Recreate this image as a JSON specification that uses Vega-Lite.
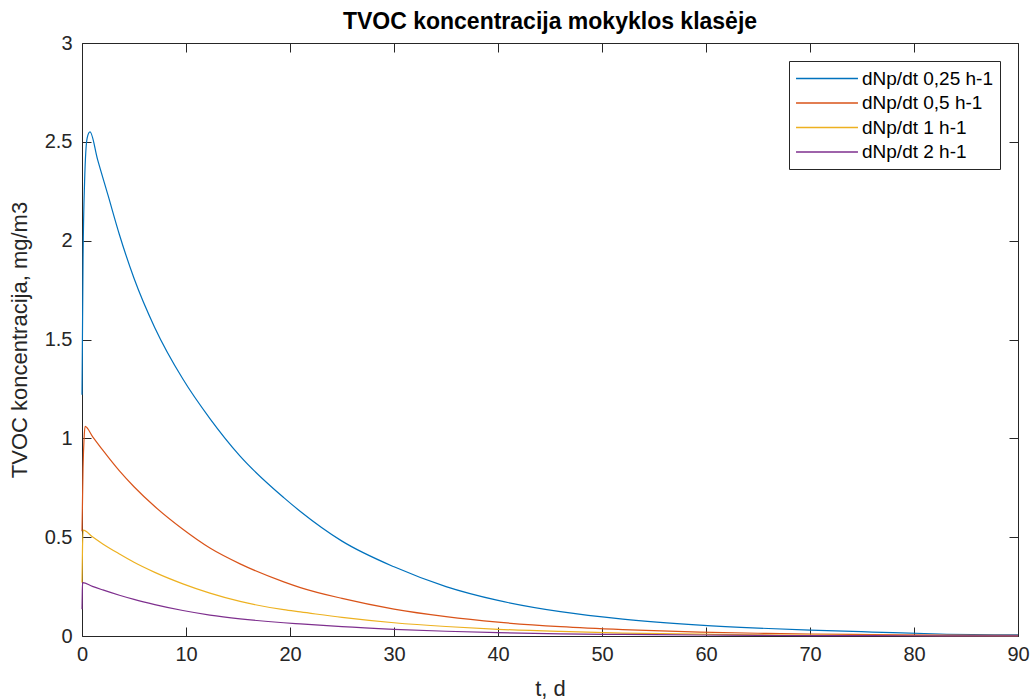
{
  "$schema": "https://vega.github.io/schema/vega-lite/v6.json",
  "width": 936,
  "height": 593,
  "autosize": {"type": "none"},
  "padding": {"left": 82, "top": 43, "right": 13, "bottom": 64},
  "background": "white",
  "title": {
    "text": "TVOC koncentracija mokyklos klasėje",
    "font": "Liberation Sans",
    "fontSize": 23,
    "fontWeight": "bold",
    "color": "#000000",
    "anchor": "middle",
    "offset": -1
  },
  "config": {
    "view": {"stroke": null},
    "axis": {
      "labelFont": "Liberation Sans",
      "titleFont": "Liberation Sans",
      "labelFontSize": 20,
      "titleFontSize": 22,
      "titleFontWeight": "normal",
      "labelColor": "#262626",
      "titleColor": "#262626",
      "domainColor": "#262626",
      "tickColor": "#262626",
      "domainWidth": 1,
      "tickWidth": 1,
      "grid": false
    }
  },
  "data": {
    "values": [
      {"t": 0, "c": 1.22, "s": "dNp/dt 0,25 h-1"},
      {"t": 0.1, "c": 1.9, "s": "dNp/dt 0,25 h-1"},
      {"t": 0.25, "c": 2.3, "s": "dNp/dt 0,25 h-1"},
      {"t": 0.5, "c": 2.52, "s": "dNp/dt 0,25 h-1"},
      {"t": 0.77, "c": 2.55, "s": "dNp/dt 0,25 h-1"},
      {"t": 1.5, "c": 2.41, "s": "dNp/dt 0,25 h-1"},
      {"t": 2.5, "c": 2.23, "s": "dNp/dt 0,25 h-1"},
      {"t": 3.6, "c": 2.03, "s": "dNp/dt 0,25 h-1"},
      {"t": 5, "c": 1.81, "s": "dNp/dt 0,25 h-1"},
      {"t": 7, "c": 1.56, "s": "dNp/dt 0,25 h-1"},
      {"t": 9.7, "c": 1.3, "s": "dNp/dt 0,25 h-1"},
      {"t": 12.3, "c": 1.1, "s": "dNp/dt 0,25 h-1"},
      {"t": 15.2, "c": 0.91, "s": "dNp/dt 0,25 h-1"},
      {"t": 19.4, "c": 0.7, "s": "dNp/dt 0,25 h-1"},
      {"t": 21, "c": 0.63, "s": "dNp/dt 0,25 h-1"},
      {"t": 25, "c": 0.48, "s": "dNp/dt 0,25 h-1"},
      {"t": 30, "c": 0.35, "s": "dNp/dt 0,25 h-1"},
      {"t": 35, "c": 0.25, "s": "dNp/dt 0,25 h-1"},
      {"t": 40, "c": 0.18, "s": "dNp/dt 0,25 h-1"},
      {"t": 46, "c": 0.123, "s": "dNp/dt 0,25 h-1"},
      {"t": 52, "c": 0.085, "s": "dNp/dt 0,25 h-1"},
      {"t": 59.4, "c": 0.055, "s": "dNp/dt 0,25 h-1"},
      {"t": 65, "c": 0.04, "s": "dNp/dt 0,25 h-1"},
      {"t": 70, "c": 0.03, "s": "dNp/dt 0,25 h-1"},
      {"t": 76, "c": 0.02, "s": "dNp/dt 0,25 h-1"},
      {"t": 82.5, "c": 0.01, "s": "dNp/dt 0,25 h-1"},
      {"t": 90, "c": 0.006, "s": "dNp/dt 0,25 h-1"},

      {"t": 0, "c": 0.53, "s": "dNp/dt 0,5 h-1"},
      {"t": 0.1, "c": 0.85, "s": "dNp/dt 0,5 h-1"},
      {"t": 0.2, "c": 1.0, "s": "dNp/dt 0,5 h-1"},
      {"t": 0.3, "c": 1.06, "s": "dNp/dt 0,5 h-1"},
      {"t": 1, "c": 1.01, "s": "dNp/dt 0,5 h-1"},
      {"t": 2, "c": 0.94, "s": "dNp/dt 0,5 h-1"},
      {"t": 3.6, "c": 0.835, "s": "dNp/dt 0,5 h-1"},
      {"t": 5, "c": 0.755, "s": "dNp/dt 0,5 h-1"},
      {"t": 7, "c": 0.655, "s": "dNp/dt 0,5 h-1"},
      {"t": 9.7, "c": 0.54, "s": "dNp/dt 0,5 h-1"},
      {"t": 12.3, "c": 0.445, "s": "dNp/dt 0,5 h-1"},
      {"t": 15.2, "c": 0.365, "s": "dNp/dt 0,5 h-1"},
      {"t": 19.4, "c": 0.274, "s": "dNp/dt 0,5 h-1"},
      {"t": 21, "c": 0.245, "s": "dNp/dt 0,5 h-1"},
      {"t": 25, "c": 0.19, "s": "dNp/dt 0,5 h-1"},
      {"t": 30, "c": 0.136, "s": "dNp/dt 0,5 h-1"},
      {"t": 35, "c": 0.098, "s": "dNp/dt 0,5 h-1"},
      {"t": 40, "c": 0.07, "s": "dNp/dt 0,5 h-1"},
      {"t": 46, "c": 0.047, "s": "dNp/dt 0,5 h-1"},
      {"t": 52, "c": 0.032, "s": "dNp/dt 0,5 h-1"},
      {"t": 59.4, "c": 0.02, "s": "dNp/dt 0,5 h-1"},
      {"t": 65, "c": 0.014, "s": "dNp/dt 0,5 h-1"},
      {"t": 70, "c": 0.01, "s": "dNp/dt 0,5 h-1"},
      {"t": 76, "c": 0.007, "s": "dNp/dt 0,5 h-1"},
      {"t": 82.5, "c": 0.004, "s": "dNp/dt 0,5 h-1"},
      {"t": 90, "c": 0.003, "s": "dNp/dt 0,5 h-1"},

      {"t": 0, "c": 0.27, "s": "dNp/dt 1 h-1"},
      {"t": 0.05, "c": 0.45, "s": "dNp/dt 1 h-1"},
      {"t": 0.12, "c": 0.536, "s": "dNp/dt 1 h-1"},
      {"t": 1, "c": 0.502, "s": "dNp/dt 1 h-1"},
      {"t": 2, "c": 0.466, "s": "dNp/dt 1 h-1"},
      {"t": 3.6, "c": 0.415, "s": "dNp/dt 1 h-1"},
      {"t": 5, "c": 0.373, "s": "dNp/dt 1 h-1"},
      {"t": 7, "c": 0.322, "s": "dNp/dt 1 h-1"},
      {"t": 9.7, "c": 0.264, "s": "dNp/dt 1 h-1"},
      {"t": 12.3, "c": 0.217, "s": "dNp/dt 1 h-1"},
      {"t": 15.2, "c": 0.175, "s": "dNp/dt 1 h-1"},
      {"t": 19.4, "c": 0.133, "s": "dNp/dt 1 h-1"},
      {"t": 21, "c": 0.122, "s": "dNp/dt 1 h-1"},
      {"t": 25, "c": 0.094, "s": "dNp/dt 1 h-1"},
      {"t": 30, "c": 0.067, "s": "dNp/dt 1 h-1"},
      {"t": 35, "c": 0.048, "s": "dNp/dt 1 h-1"},
      {"t": 40, "c": 0.034, "s": "dNp/dt 1 h-1"},
      {"t": 46, "c": 0.023, "s": "dNp/dt 1 h-1"},
      {"t": 52, "c": 0.015, "s": "dNp/dt 1 h-1"},
      {"t": 59.4, "c": 0.009, "s": "dNp/dt 1 h-1"},
      {"t": 65, "c": 0.006, "s": "dNp/dt 1 h-1"},
      {"t": 70, "c": 0.004, "s": "dNp/dt 1 h-1"},
      {"t": 76, "c": 0.003, "s": "dNp/dt 1 h-1"},
      {"t": 82.5, "c": 0.002, "s": "dNp/dt 1 h-1"},
      {"t": 90, "c": 0.001, "s": "dNp/dt 1 h-1"},

      {"t": 0, "c": 0.135, "s": "dNp/dt 2 h-1"},
      {"t": 0.03, "c": 0.23, "s": "dNp/dt 2 h-1"},
      {"t": 0.06, "c": 0.27, "s": "dNp/dt 2 h-1"},
      {"t": 1, "c": 0.251, "s": "dNp/dt 2 h-1"},
      {"t": 2, "c": 0.233, "s": "dNp/dt 2 h-1"},
      {"t": 3.6, "c": 0.206, "s": "dNp/dt 2 h-1"},
      {"t": 5, "c": 0.185, "s": "dNp/dt 2 h-1"},
      {"t": 7, "c": 0.159, "s": "dNp/dt 2 h-1"},
      {"t": 9.7, "c": 0.129, "s": "dNp/dt 2 h-1"},
      {"t": 12.3, "c": 0.106, "s": "dNp/dt 2 h-1"},
      {"t": 15.2, "c": 0.087, "s": "dNp/dt 2 h-1"},
      {"t": 19.4, "c": 0.067, "s": "dNp/dt 2 h-1"},
      {"t": 21, "c": 0.061, "s": "dNp/dt 2 h-1"},
      {"t": 25, "c": 0.047, "s": "dNp/dt 2 h-1"},
      {"t": 30, "c": 0.034, "s": "dNp/dt 2 h-1"},
      {"t": 35, "c": 0.024, "s": "dNp/dt 2 h-1"},
      {"t": 40, "c": 0.017, "s": "dNp/dt 2 h-1"},
      {"t": 46, "c": 0.011, "s": "dNp/dt 2 h-1"},
      {"t": 52, "c": 0.008, "s": "dNp/dt 2 h-1"},
      {"t": 59.4, "c": 0.005, "s": "dNp/dt 2 h-1"},
      {"t": 65, "c": 0.003, "s": "dNp/dt 2 h-1"},
      {"t": 70, "c": 0.002, "s": "dNp/dt 2 h-1"},
      {"t": 76, "c": 0.0015, "s": "dNp/dt 2 h-1"},
      {"t": 82.5, "c": 0.001, "s": "dNp/dt 2 h-1"},
      {"t": 90, "c": 0.001, "s": "dNp/dt 2 h-1"}
    ]
  },
  "layer": [
    {
      "mark": {"type": "line", "strokeWidth": 1.2, "interpolate": "monotone"},
      "encoding": {
        "x": {
          "field": "t",
          "type": "quantitative",
          "scale": {"domain": [0, 90], "nice": false, "zero": false},
          "axis": {
            "orient": "bottom",
            "title": "t, d",
            "values": [0, 10, 20, 30, 40, 50, 60, 70, 80, 90],
            "tickSize": -9,
            "labelPadding": 17,
            "titlePadding": 14,
            "labelFlush": false
          }
        },
        "y": {
          "field": "c",
          "type": "quantitative",
          "scale": {"domain": [0, 3], "nice": false},
          "axis": {
            "orient": "left",
            "title": "TVOC koncentracija, mg/m3",
            "values": [0, 0.5, 1, 1.5, 2, 2.5, 3],
            "format": "~g",
            "tickSize": -9,
            "labelPadding": 19,
            "titlePadding": 13,
            "labelFlush": false
          }
        },
        "color": {
          "field": "s",
          "type": "nominal",
          "scale": {
            "domain": ["dNp/dt 0,25 h-1", "dNp/dt 0,5 h-1", "dNp/dt 1 h-1", "dNp/dt 2 h-1"],
            "range": ["#0072BD", "#D95319", "#EDB120", "#7E2F8E"]
          },
          "legend": {
            "orient": "none",
            "legendX": 707,
            "legendY": 18,
            "title": null,
            "strokeColor": "#262626",
            "fillColor": "white",
            "padding": 7,
            "labelFont": "Liberation Sans",
            "labelFontSize": 19,
            "labelColor": "#000000",
            "symbolType": "M-3.26,0H3.26",
            "symbolSize": 361,
            "symbolStrokeWidth": 1.5,
            "symbolOffset": 20.5,
            "labelOffset": 24.5,
            "rowPadding": 3.5
          }
        }
      }
    },
    {
      "mark": {"type": "line", "strokeOpacity": 0},
      "encoding": {
        "x": {
          "field": "t",
          "type": "quantitative",
          "axis": {
            "orient": "top",
            "title": null,
            "labels": false,
            "values": [0, 10, 20, 30, 40, 50, 60, 70, 80, 90],
            "tickSize": -9
          }
        },
        "y": {
          "field": "c",
          "type": "quantitative",
          "axis": {
            "orient": "right",
            "title": null,
            "labels": false,
            "values": [0, 0.5, 1, 1.5, 2, 2.5, 3],
            "tickSize": -9
          }
        },
        "detail": {"field": "s", "type": "nominal"}
      }
    }
  ],
  "resolve": {"axis": {"x": "independent", "y": "independent"}}
}
